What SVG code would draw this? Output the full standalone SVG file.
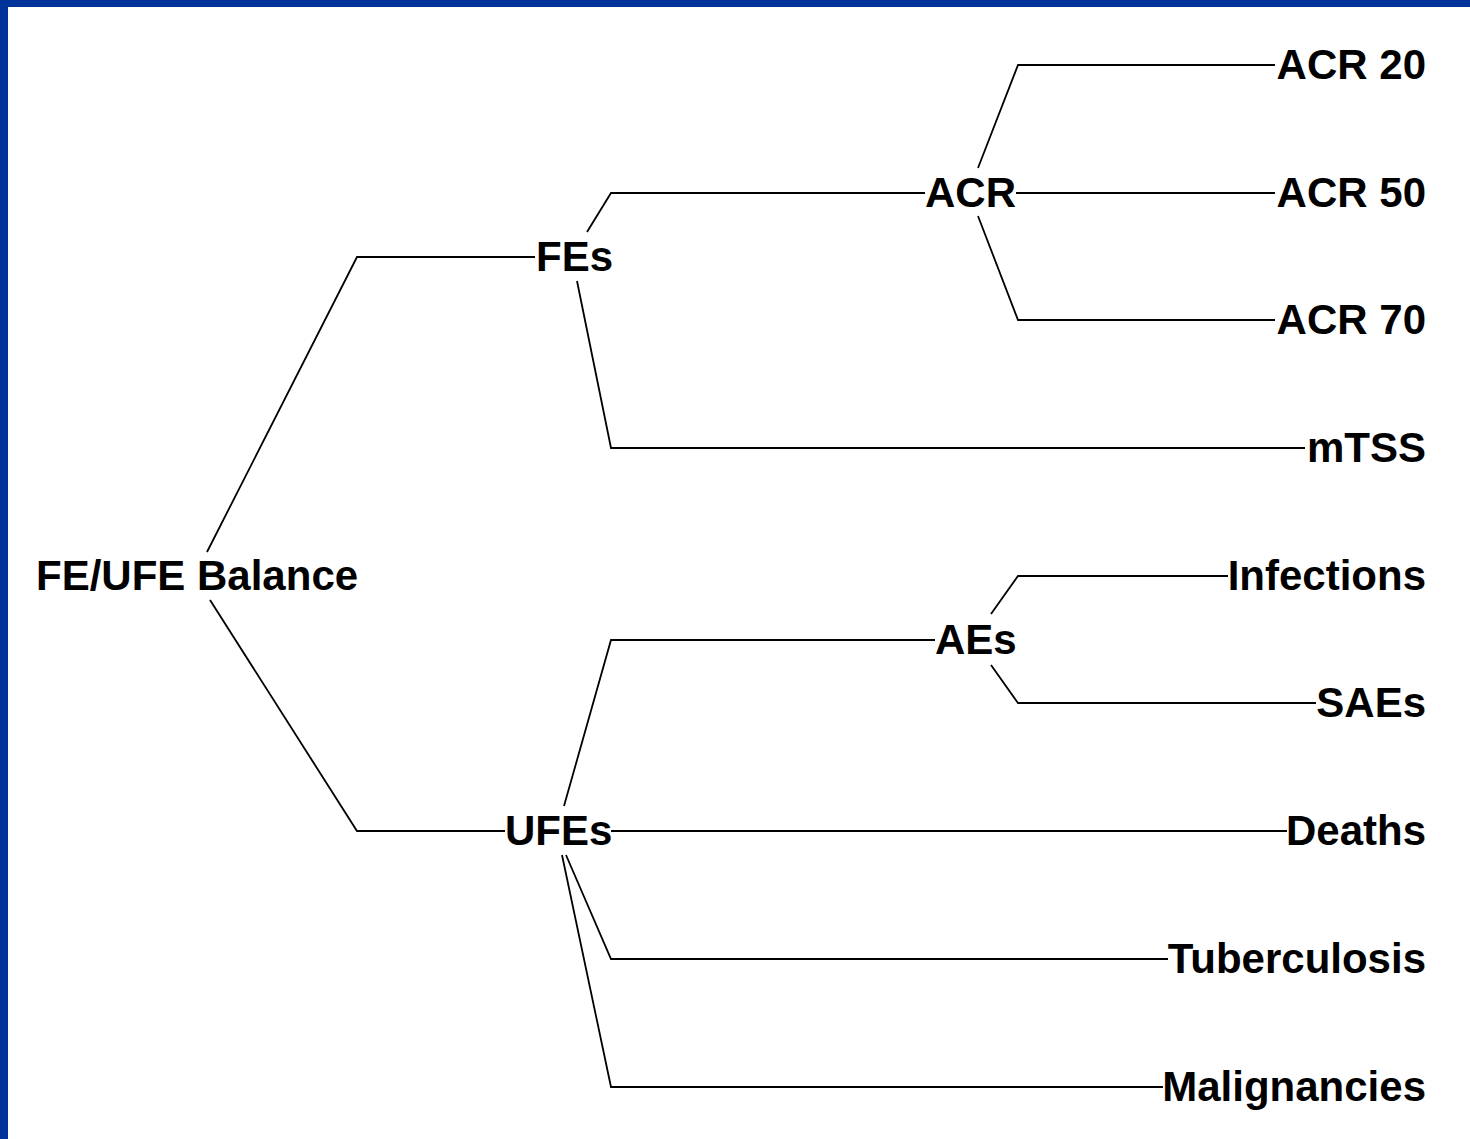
<svg xmlns="http://www.w3.org/2000/svg" width="1470" height="1139" viewBox="0 0 1470 1139">
<style>
.t{font-family:"Liberation Sans",Arial,sans-serif;font-weight:bold;font-size:42px;fill:#000}
.e{text-anchor:end}
.c path{fill:none;stroke:#000;stroke-width:1.8}
</style>
<rect x="0" y="0" width="1470" height="1139" fill="#fff"/>
<rect x="0" y="0" width="1470" height="7" fill="#003399"/>
<rect x="0" y="0" width="8" height="1139" fill="#003399"/>
<g class="c" id="connectors">
<path d="M207,552 L357,257 L535,257"/>
<path d="M210,600 L357,831 L505,831"/>
<path d="M587,232 L611,193 L925,193"/>
<path d="M577,281 L611,448 L1305,448"/>
<path d="M978,168 L1018,65 L1275,65"/>
<path d="M1016,193 L1275,193"/>
<path d="M978,216 L1018,320 L1275,320"/>
<path d="M991,614 L1018,576 L1228,576"/>
<path d="M991,665 L1018,703 L1316,703"/>
<path d="M564,806 L611,640 L935,640"/>
<path d="M611,831 L1287,831"/>
<path d="M566,855 L611,959 L1168,959"/>
<path d="M562,855 L611,1087 L1163,1087"/>
</g>
<g id="root"><text class="t" x="36" y="590">FE/UFE Balance</text></g>
<g id="fes"><text class="t" x="536" y="271">FEs</text></g>
<g id="ufes"><text class="t" x="505" y="845">UFEs</text></g>
<g id="acr"><text class="t" x="925" y="207">ACR</text></g>
<g id="aes"><text class="t" x="935" y="654">AEs</text></g>
<g id="acr20"><text class="t e" x="1426" y="79">ACR 20</text></g>
<g id="acr50"><text class="t e" x="1426" y="207">ACR 50</text></g>
<g id="acr70"><text class="t e" x="1426" y="334">ACR 70</text></g>
<g id="mtss"><text class="t e" x="1426" y="462">mTSS</text></g>
<g id="infections"><text class="t e" x="1426" y="590">Infections</text></g>
<g id="saes"><text class="t e" x="1426" y="717">SAEs</text></g>
<g id="deaths"><text class="t e" x="1426" y="845">Deaths</text></g>
<g id="tuberculosis"><text class="t e" x="1426" y="973">Tuberculosis</text></g>
<g id="malignancies"><text class="t e" x="1426" y="1101">Malignancies</text></g>
</svg>
